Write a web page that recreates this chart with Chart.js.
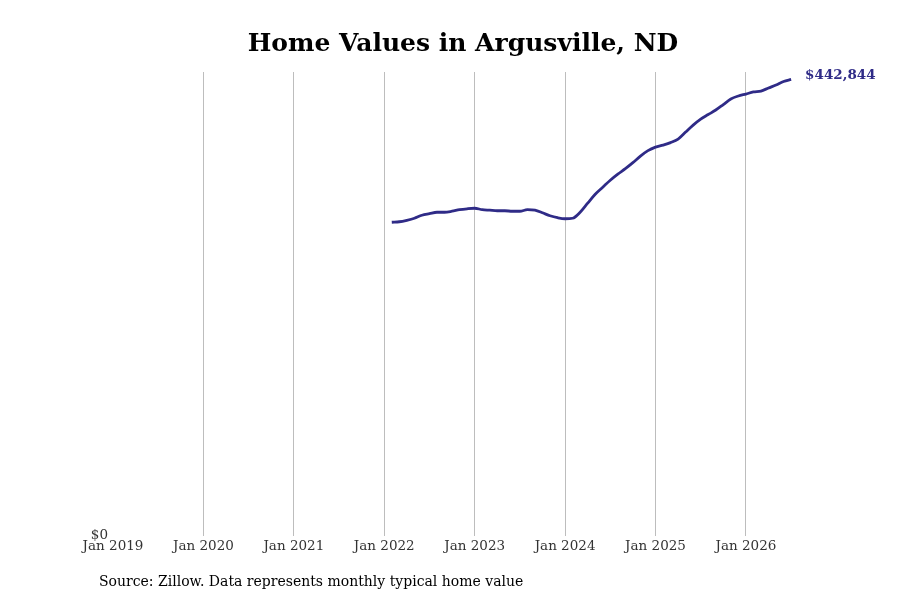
<!DOCTYPE html>
<html>
<head>
<meta charset="utf-8">
<script src="https://cdn.jsdelivr.net/npm/chart.js@4"></script>
<style>
    body { margin: 0; background: #fff; }
    #wrap { position: relative; width: 900px; height: 600px; }
    #source {
        position: absolute; left: 99px; top: 573px;
        font: 14px "DejaVu Serif", serif; color: #000;
    }
</style>
</head>
<body>
<div id="wrap">
    <canvas id="homeChart" width="900" height="600"></canvas>
    <div id="source">Source: Zillow. Data represents monthly typical home value</div>
</div>
<script>
// monthly typical home value, Feb 2022 - Jul 2026
const months = [
    "2022-02","2022-03","2022-04","2022-05","2022-06","2022-07","2022-08","2022-09","2022-10","2022-11","2022-12",
    "2023-01","2023-02","2023-03","2023-04","2023-05","2023-06","2023-07","2023-08","2023-09","2023-10","2023-11","2023-12",
    "2024-01","2024-02","2024-03","2024-04","2024-05","2024-06","2024-07","2024-08","2024-09","2024-10","2024-11","2024-12",
    "2025-01","2025-02","2025-03","2025-04","2025-05","2025-06","2025-07","2025-08","2025-09","2025-10","2025-11","2025-12",
    "2026-01","2026-02","2026-03","2026-04","2026-05","2026-06","2026-07"
];
const values = [
    304200, 304700, 306150, 308100, 311000, 312500, 313900, 313900, 314900, 316400, 317300,
    317800, 316400, 315900, 315400, 315400, 314900, 314900, 316400, 315900, 313400, 310500, 308600,
    307600, 308100, 313900, 322700, 331400, 338200, 345000, 350900, 356200, 362000, 368400, 373700,
    377100, 379100, 381500, 384900, 391700, 398500, 404300, 408700, 413100, 418400, 423800, 426700,
    428600, 430600, 431500, 434500, 437400, 440800, 442844
];
const tickYears = [2019, 2020, 2021, 2022, 2023, 2024, 2025, 2026];
const tickLabels = ["Jan 2019", "Jan 2020", "Jan 2021", "Jan 2022", "Jan 2023", "Jan 2024", "Jan 2025", "Jan 2026"];

const lineColor = "#2f2b87";
const startYear = 2019;

function monthIndex(str) {
    const [y, m] = str.split("-").map(Number);
    return (y - startYear) * 12 + (m - 1);
}

const points = months.map((m, i) => ({x: monthIndex(m), y: values[i]}));
const tickValues = tickYears.map(y => (y - startYear) * 12);

const endLabel = {
    id: "endLabel",
    afterDatasetsDraw(chart) {
        const meta = chart.getDatasetMeta(0);
        const last = meta.data[meta.data.length - 1];
        const ctx = chart.ctx;
        ctx.save();
        ctx.font = "bold 13.5px 'DejaVu Serif', serif";
        ctx.fillStyle = lineColor;
        ctx.textBaseline = "middle";
        ctx.fillText("$" + values[values.length - 1].toLocaleString("en-US"), last.x + 14, last.y - 4);
        ctx.restore();
    }
};

new Chart(document.getElementById("homeChart"), {
    type: "line",
    data: {
        datasets: [{
            data: points,
            borderColor: lineColor,
            borderWidth: 2.8,
            pointRadius: 0,
            cubicInterpolationMode: "monotone",
            fill: false
        }]
    },
    options: {
        responsive: false,
        animation: false,
        layout: {padding: {left: 52, right: 26, top: 0, bottom: 42}},
        plugins: {
            legend: {display: false},
            tooltip: {enabled: false},
            title: {
                display: true,
                text: "Home Values in Argusville, ND",
                color: "#000",
                font: {family: "'DejaVu Serif', serif", size: 25, weight: "bold"},
                padding: {top: 29, bottom: 13}
            }
        },
        scales: {
            x: {
                type: "linear",
                min: 0,
                max: 101,
                afterBuildTicks: scale => { scale.ticks = tickValues.map(v => ({value: v})); },
                ticks: {
                    color: "#333",
                    font: {family: "'DejaVu Serif', serif", size: 13.5},
                    padding: 3,
                    maxRotation: 0,
                    autoSkip: false,
                    callback: (v) => tickLabels[tickValues.indexOf(v)]
                },
                grid: {
                    drawTicks: false,
                    color: ctx => (ctx.tick && ctx.tick.value === 0) ? "rgba(0,0,0,0)" : "#bdbdbd",
                    lineWidth: 1
                },
                border: {display: false}
            },
            y: {
                min: 0,
                max: 450000,
                afterBuildTicks: scale => { scale.ticks = [{value: 0}]; },
                afterFit: scale => { scale.width = 61; },
                ticks: {
                    color: "#333",
                    font: {family: "'DejaVu Serif', serif", size: 13.5},
                    padding: 5,
                    callback: v => "$" + v.toLocaleString("en-US")
                },
                grid: {display: false, drawTicks: false},
                border: {display: false}
            }
        }
    },
    plugins: [endLabel]
});
</script>
</body>
</html>
